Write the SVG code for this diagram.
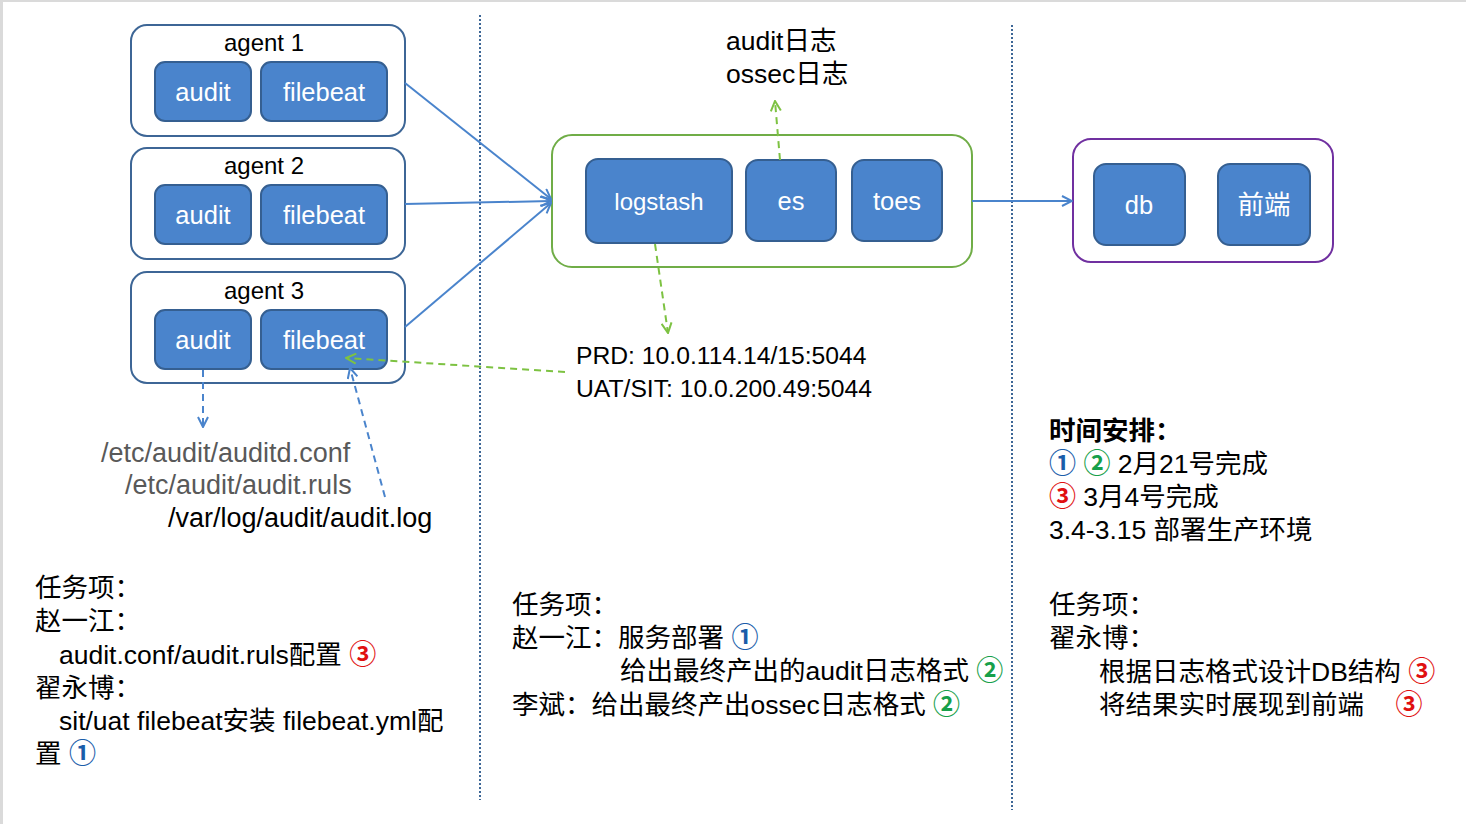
<svg xmlns="http://www.w3.org/2000/svg" width="1466" height="824" viewBox="0 0 1466 824">
<defs>
<style>
text{font-family:"Liberation Sans","Noto Sans CJK SC",sans-serif;font-size:26.5px;fill:#000}
.grp{fill:#fff;stroke:#3D6696;stroke-width:2}
.box{fill:#4A84CC;stroke:#355F91;stroke-width:2}
.lbl{fill:#fff;text-anchor:middle;font-size:25.5px}
.ttl{text-anchor:middle;font-size:24px}
.blue{stroke:#4A84CC;stroke-width:2;fill:none}
.bdash{stroke:#4A84CC;stroke-width:2;fill:none;stroke-dasharray:7 5}
.gdash{stroke:#7DC242;stroke-width:2;fill:none;stroke-dasharray:7 5}
.div{stroke:#3D6696;stroke-width:2;stroke-dasharray:2 2}
.grey{fill:#595959}
.path{font-size:27px}
.c1{fill:#1A5DAA;font-weight:bold;font-size:27px}
.c2{fill:#17A04A;font-weight:bold;font-size:27px}
.c3{fill:#E01010;font-weight:bold;font-size:27px}
</style>
<marker id="ab" viewBox="0 0 12 12" refX="11" refY="6" markerWidth="12" markerHeight="12" markerUnits="userSpaceOnUse" orient="auto"><path d="M1,1 L11,6 L1,11" fill="none" stroke="#4A84CC" stroke-width="2"/></marker>
<marker id="ag" viewBox="0 0 12 12" refX="11" refY="6" markerWidth="12" markerHeight="12" markerUnits="userSpaceOnUse" orient="auto"><path d="M1,1 L11,6 L1,11" fill="none" stroke="#7DC242" stroke-width="2"/></marker>
</defs>
<rect x="0" y="0" width="1466" height="824" fill="#fff"/>
<rect x="0" y="0" width="1466" height="2" fill="#DADADA"/>
<rect x="0" y="0" width="3" height="824" fill="#DADADA"/>

<g id="dividers">
<line class="div" x1="480" y1="15" x2="480" y2="800"/>
<line class="div" x1="1012" y1="25" x2="1012" y2="810"/>
</g>

<g id="agent1">
<rect class="grp" x="131" y="25" width="274" height="111" rx="16"/>
<text class="ttl" x="264" y="51">agent 1</text>
<rect class="box" x="155" y="62" width="96" height="59" rx="10"/>
<text class="lbl" x="203" y="101">audit</text>
<rect class="box" x="261" y="62" width="126" height="59" rx="10"/>
<text class="lbl" x="324" y="101">filebeat</text>
</g>
<g id="agent2">
<rect class="grp" x="131" y="148" width="274" height="111" rx="16"/>
<text class="ttl" x="264" y="174">agent 2</text>
<rect class="box" x="155" y="185" width="96" height="59" rx="10"/>
<text class="lbl" x="203" y="224">audit</text>
<rect class="box" x="261" y="185" width="126" height="59" rx="10"/>
<text class="lbl" x="324" y="224">filebeat</text>
</g>
<g id="agent3">
<rect class="grp" x="131" y="272" width="274" height="111" rx="16"/>
<text class="ttl" x="264" y="299">agent 3</text>
<rect class="box" x="155" y="310" width="96" height="59" rx="10"/>
<text class="lbl" x="203" y="349">audit</text>
<rect class="box" x="261" y="310" width="126" height="59" rx="10"/>
<text class="lbl" x="324" y="349">filebeat</text>
</g>

<g id="pipeline">
<rect x="552" y="135" width="420" height="132" rx="20" fill="#fff" stroke="#70AD47" stroke-width="2"/>
<rect class="box" x="586" y="159" width="146" height="84" rx="12"/>
<text class="lbl" x="659" y="210" style="font-size:24px">logstash</text>
<rect class="box" x="746" y="160" width="90" height="81" rx="12"/>
<text class="lbl" x="791" y="210">es</text>
<rect class="box" x="852" y="160" width="90" height="81" rx="12"/>
<text class="lbl" x="897" y="210">toes</text>
</g>

<g id="storage">
<rect x="1073" y="139" width="260" height="123" rx="18" fill="#fff" stroke="#7030A0" stroke-width="2"/>
<rect class="box" x="1094" y="164" width="91" height="81" rx="12"/>
<text class="lbl" x="1139" y="214">db</text>
<rect class="box" x="1218" y="164" width="92" height="81" rx="12"/>
<text class="lbl" x="1264" y="214" style="font-size:26.5px">前端</text>
</g>

<g id="connectors">
<line class="blue" x1="405" y1="83" x2="551" y2="199" marker-end="url(#ab)"/>
<line class="blue" x1="405" y1="204" x2="551" y2="201" marker-end="url(#ab)"/>
<line class="blue" x1="405" y1="327" x2="551" y2="203" marker-end="url(#ab)"/>
<line class="blue" x1="972" y1="201" x2="1072" y2="201" marker-end="url(#ab)"/>
<line class="gdash" x1="780" y1="160" x2="775" y2="101" marker-end="url(#ag)"/>
<line class="gdash" x1="655" y1="244" x2="668" y2="333" marker-end="url(#ag)"/>
<line class="gdash" x1="565" y1="372" x2="346" y2="358" marker-end="url(#ag)"/>
<line class="bdash" x1="203" y1="370" x2="203" y2="427" marker-end="url(#ab)"/>
<line class="bdash" x1="385" y1="497" x2="350" y2="368" marker-end="url(#ab)"/>
</g>

<g id="labels">
<text x="726" y="50">audit日志</text>
<text x="726" y="83">ossec日志</text>
<text x="576" y="364" style="font-size:24.7px">PRD: 10.0.114.14/15:5044</text>
<text x="576" y="397" style="font-size:24.7px">UAT/SIT: 10.0.200.49:5044</text>
<text class="grey path" x="101" y="462">/etc/audit/auditd.conf</text>
<text class="grey path" x="125" y="494">/etc/audit/audit.ruls</text>
<text class="path" x="168" y="527">/var/log/audit/audit.log</text>
</g>

<g id="tasks-left">
<text x="35" y="597">任务项：</text>
<text x="35" y="630">赵一江：</text>
<text x="59" y="664">audit.conf/audit.ruls配置 <tspan class="c3">③</tspan></text>
<text x="35" y="697">翟永博：</text>
<text x="59" y="730">sit/uat filebeat安装 filebeat.yml配</text>
<text x="35" y="763">置 <tspan class="c1">①</tspan></text>
</g>

<g id="tasks-middle">
<text x="512" y="614">任务项：</text>
<text x="512" y="647">赵一江：服务部署 <tspan class="c1">①</tspan></text>
<text x="620" y="680">给出最终产出的audit日志格式 <tspan class="c2">②</tspan></text>
<text x="512" y="714">李斌：给出最终产出ossec日志格式 <tspan class="c2">②</tspan></text>
</g>

<g id="schedule">
<text x="1049" y="440" font-weight="bold">时间安排：</text>
<text x="1049" y="473"><tspan class="c1">①</tspan> <tspan class="c2">②</tspan> 2月21号完成</text>
<text x="1049" y="506"><tspan class="c3">③</tspan> 3月4号完成</text>
<text x="1049" y="539">3.4-3.15 部署生产环境</text>
<text x="1049" y="614">任务项：</text>
<text x="1049" y="647">翟永博：</text>
<text x="1099" y="681">根据日志格式设计DB结构 <tspan class="c3">③</tspan></text>
<text x="1099" y="714">将结果实时展现到前端 <tspan class="c3" dx="24">③</tspan></text>
</g>
</svg>
